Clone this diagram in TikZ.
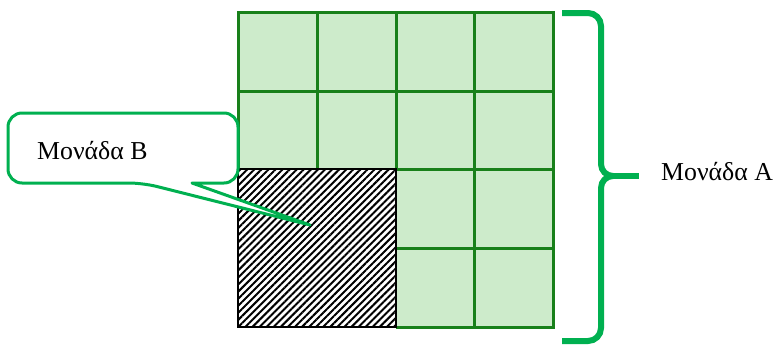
\documentclass[tikz,border=0pt]{standalone}
\usepackage{fontspec}
\setmainfont{Liberation Serif}
\usetikzlibrary{patterns.meta}
\definecolor{gridline}{HTML}{18801A}
\definecolor{cellfill}{HTML}{CDEBCB}
\definecolor{calloutgreen}{HTML}{00B050}
\tikzset{
  gridln/.style={draw=gridline, line width=3pt},
  labeltext/.style={font=\fontsize{25.8}{30}\selectfont, inner sep=0pt},
  calloutshape/.style={draw=calloutgreen, fill=white, line width=3pt, line join=round},
  bracestyle/.style={draw=calloutgreen, line width=6pt, line cap=butt},
}
\begin{document}
\begin{tikzpicture}[x=1pt,y=-1pt]
\useasboundingbox (0,0) rectangle (779,346);
% light green fill of the whole square
\fill[cellfill] (238,12) rectangle (553,327);
% grid lines
\draw[gridln] (238,169) -- (238,12) -- (553,12) -- (553,327) -- (396,327);
\draw[gridln] (317,12) -- (317,169);
\draw[gridln] (396,12) -- (396,169);
\draw[gridln] (474,12) -- (474,327);
\draw[gridln] (238,91) -- (553,91);
\draw[gridln] (238,169) -- (553,169);
\draw[gridln] (396,248) -- (553,248);
% hatched unit B
\fill[white] (238,169) rectangle (396,327);
\fill[pattern={Lines[angle=45,distance=5pt,line width=2pt]}, pattern color=black] (238,169) rectangle (396,327);
\draw[black, line width=1.5pt] (238,169) rectangle (396,327);
% callout
\draw[calloutshape, rounded corners=14pt] (192,183) -- (238,183) -- (238,113) -- (8,113) -- (8,183) -- (143,183) [sharp corners] -- (310,225) -- cycle;
\node[labeltext, anchor=base west] (b) at (37,159) {Μονάδα Β};
% brace
\draw[bracestyle] (562,13) -- (588,13) to[out=0,in=90] (601,26) -- (601,164) to[out=-90,in=180] (613,176) to[out=180,in=90] (601,188) -- (601,328) to[out=-90,in=0] (588,341) -- (562,341);
\draw[bracestyle] (611,176) -- (639,176);
\node[labeltext, anchor=base west] (a) at (661,180) {Μονάδα Α};
\end{tikzpicture}
\end{document}
